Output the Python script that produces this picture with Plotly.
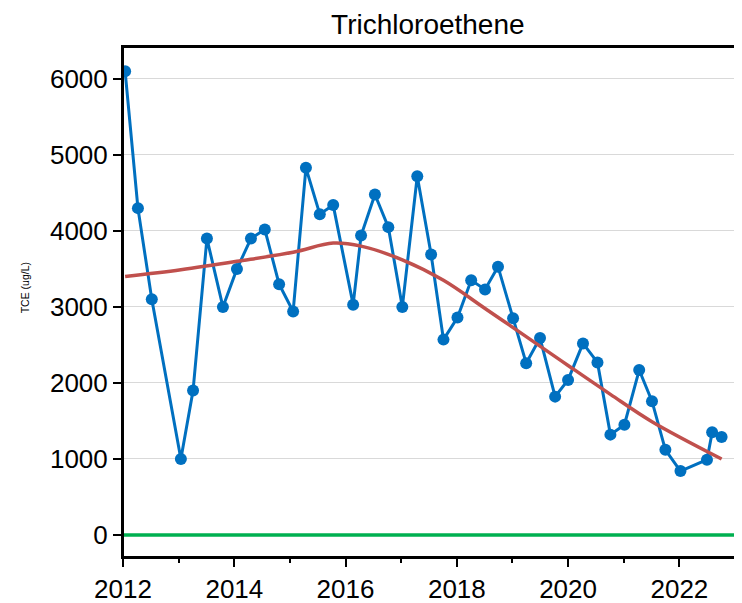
import plotly.graph_objects as go

sample_dates = [
    "2012-01-15", "2012-04-08", "2012-07-08", "2013-01-15", "2013-04-05", "2013-07-05",
    "2013-10-18", "2014-01-18", "2014-04-20", "2014-07-20", "2014-10-22", "2015-01-22",
    "2015-04-16", "2015-07-16", "2015-10-12", "2016-02-20", "2016-04-12", "2016-07-12",
    "2016-10-08", "2017-01-08", "2017-04-16", "2017-07-16", "2017-10-05", "2018-01-05",
    "2018-04-05", "2018-07-05", "2018-09-28", "2019-01-05", "2019-04-01", "2019-07-01",
    "2019-10-08", "2020-01-01", "2020-04-08", "2020-07-12", "2020-10-05", "2021-01-05",
    "2021-04-12", "2021-07-05", "2021-10-01", "2022-01-08", "2022-07-01", "2022-08-04",
    "2022-10-05",
]
tce_values = [
    6100, 4300, 3100, 1000, 1900, 3900,
    3000, 3500, 3900, 4020, 3300, 2940,
    4830, 4220, 4340, 3030, 3940, 4480,
    4050, 3000, 4720, 3690, 2570, 2860,
    3350, 3230, 3530, 2850, 2260, 2590,
    1820, 2040, 2520, 2270, 1320, 1450,
    2170, 1760, 1120, 840, 990, 1350,
    1290,
]

trend_dates = [
    "2012-01-15", "2013-01-15", "2014-01-18", "2015-01-22", "2015-10-12", "2016-04-12",
    "2017-01-08", "2017-10-05", "2018-07-05", "2019-04-01", "2020-01-01", "2020-10-05",
    "2021-07-05", "2022-10-05",
]
trend_values = [
    3400, 3490, 3600, 3720, 3840, 3800,
    3620, 3350, 2980, 2610, 2230, 1850,
    1490, 1000,
]

zero_dates = ["2012-01-01", "2023-01-01"]
zero_values = [0, 0]

y_ticks = [0, 1000, 2000, 3000, 4000, 5000, 6000]

FONT = "Liberation Sans, Arial, sans-serif"

fig = go.Figure()
fig.add_trace(go.Scatter(
    x=zero_dates, y=zero_values, mode="lines",
    line=dict(color="#00b050", width=3.5), hoverinfo="skip", showlegend=False,
))
fig.add_trace(go.Scatter(
    x=sample_dates, y=tce_values, mode="lines+markers",
    line=dict(color="#0070c0", width=3),
    marker=dict(color="#0070c0", size=12),
    showlegend=False,
))
fig.add_trace(go.Scatter(
    x=trend_dates, y=trend_values, mode="lines",
    line=dict(color="#c0504d", width=3.5, shape="spline", smoothing=1.0),
    showlegend=False,
))

# plot frame
fig.add_shape(type="rect", xref="paper", yref="paper", x0=0, x1=1, y0=0, y1=1,
              line=dict(color="black", width=2), layer="above")

fig.add_annotation(
    text="TCE (ug/L)", textangle=-90, xref="paper", yref="paper",
    x=-0.160, y=0.527, xanchor="center", yanchor="middle", showarrow=False,
    font=dict(size=10.5, family=FONT, color="black"),
)

fig.update_layout(
    width=734, height=595,
    margin=dict(l=115, r=7, t=39, b=46),
    paper_bgcolor="white", plot_bgcolor="white",
    font=dict(family=FONT, color="black", size=26),
    title=dict(text="Trichloroethene", x=0.572, xanchor="center",
               y=0.973, yanchor="middle", font=dict(size=28, family=FONT, color="black")),
    showlegend=False,
)
fig.update_xaxes(
    type="date", range=["2012-01-01", "2023-01-01"],
    tick0="2012-01-01", dtick="M24", tickformat="%Y",
    ticks="outside", ticklen=8, tickwidth=2, tickcolor="black",
    minor=dict(dtick="M12", ticks="outside", ticklen=4, tickwidth=1.5, tickcolor="black"),
    showgrid=False, zeroline=False, automargin=False,
    showline=True, linecolor="black", linewidth=2, mirror=True,
    tickfont=dict(size=26, family=FONT, color="black"),
)
fig.update_yaxes(
    range=[-290, 6420], tickvals=y_ticks,
    ticks="outside", ticklen=8, tickwidth=2, tickcolor="black",
    showgrid=True, gridcolor="#d9d9d9", gridwidth=1.2,
    zeroline=False, automargin=False,
    showline=True, linecolor="black", linewidth=2, mirror=True,
    tickfont=dict(size=26, family=FONT, color="black"),
)

fig.write_html("out.html")
